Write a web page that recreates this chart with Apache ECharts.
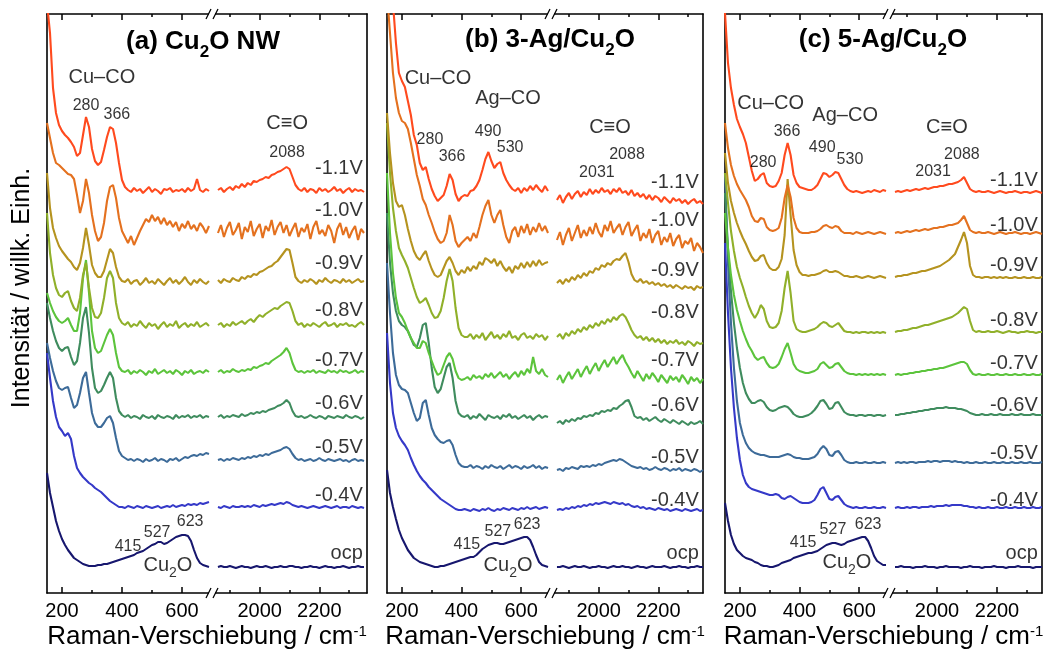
<!DOCTYPE html>
<html><head><meta charset="utf-8">
<script src="https://cdn.jsdelivr.net/npm/echarts@6/dist/echarts.min.js"></script>
<style>html,body{margin:0;padding:0;background:#fff}#c{width:1046px;height:652px}</style>
</head><body><div id="c"></div>
<script>
// ---------- x grids (Raman shift, cm-1) ----------
const xLeft = [150,160,170,180,190,200,210,220,230,240,250,260,270,280,290,300,310,320,330,340,350,360,370,380,390,400,410,420,430,440,450,460,470,480,490,500,510,520,530,540,550,560,570,580,590,600,610,620,630,640,650,660,670,680,690];
const xRight = [1860,1870,1880,1890,1900,1910,1920,1930,1940,1950,1960,1970,1980,1990,2000,2010,2020,2030,2040,2050,2060,2070,2080,2090,2100,2110,2120,2130,2140,2150,2160,2170,2180,2190,2200,2210,2220,2230,2240,2250,2260,2270,2280,2290,2300,2310,2320,2330,2340,2350];
const traceNames = ['ocp','-0.4V','-0.5V','-0.6V','-0.7V','-0.8V','-0.9V','-1.0V','-1.1V'];
const xMajorL = [200,400,600], xMinorL = [300,500];
const xMajorR = [2000,2200], xMinorR = [1900,2100,2300];

// ---------- panel (a) Cu2O NW : stacked intensities ----------
const a_ocp_L = [120,100,86,72,62,54,48,43,39,35,33,31,29,28,27,27,27,28,28,29,29,30,31,32,33,34,35,36,37,38,40,41,42,44,46,48,49,51,51,49,50,52,54,56,57,58,58,57,52,43,35,30,28,27,26];
const a_m04_L = [240,215,192,176,166,162,157,160,154,137,125,120,116,113,110,108,105,103,101,98,95,92,90,88,86,86,85,87,86,85,87,86,85,87,86,85,86,87,85,86,87,86,88,86,87,88,87,89,88,89,88,90,89,90,91];
const a_m05_L = [250,235,222,212,205,203,205,206,195,185,188,200,215,221,200,180,170,166,166,170,175,177,170,155,142,137,135,133,134,132,134,133,131,134,132,133,135,132,134,133,131,134,133,135,132,134,136,135,137,138,137,139,138,140,139];
const a_m06_L = [290,275,262,252,245,242,245,246,236,228,232,250,275,286,260,225,205,200,202,208,215,221,215,195,182,178,176,178,175,177,176,174,178,176,175,177,174,178,176,175,177,176,174,178,175,177,176,178,175,177,176,178,175,177,176];
const a_m07_L = [300,290,282,276,272,270,272,275,268,262,262,280,315,333,300,262,245,240,242,250,258,264,258,240,226,222,221,223,219,222,220,223,221,218,222,220,224,219,221,223,220,222,219,223,221,218,222,220,223,219,221,222,220,223,221];
const a_m08_L = [380,340,318,305,298,296,300,302,292,285,282,295,318,330,305,285,276,275,280,295,315,322,315,290,275,270,268,271,266,269,267,272,268,265,270,267,269,264,268,271,266,269,267,272,265,268,270,266,269,267,271,266,268,270,267];
const a_m09_L = [420,385,365,355,347,342,338,334,331,326,323,330,345,365,348,328,320,316,316,322,333,344,340,326,316,312,311,314,309,312,313,308,311,315,310,312,309,314,311,308,312,315,310,313,309,312,316,311,308,313,310,314,311,309,312];
const a_m10_L = [470,455,440,430,428,425,422,419,418,414,398,380,392,414,400,378,362,352,356,370,392,406,408,395,375,362,356,350,357,348,355,362,368,374,371,378,372,376,369,375,368,372,366,371,362,369,365,372,364,368,362,370,366,360,367];
const a_m11_L = [590,560,505,480,468,462,458,455,451,446,437,440,458,476,466,444,432,428,431,443,456,466,464,450,430,413,406,403,401,405,402,404,400,403,406,401,404,402,399,404,403,405,401,403,402,404,401,405,402,404,414,403,401,404,402];
const a_ocp_R = [26,27,26,26,27,26,25,26,27,26,26,25,26,27,26,26,27,26,25,26,26,27,26,26,27,27,26,26,25,26,26,27,26,26,25,26,27,26,26,25,26,26,27,26,25,26,26,27,26,26];
const a_m04_R = [86,85,87,86,85,87,86,86,87,86,87,86,88,87,86,88,87,88,89,88,89,90,89,91,90,88,87,86,87,86,85,86,87,86,85,86,87,86,85,86,87,85,86,86,85,87,86,85,86,85];
const a_m05_R = [133,134,132,134,133,135,134,133,135,134,136,135,137,136,138,137,139,138,140,141,142,143,145,146,144,139,135,133,134,132,133,134,132,133,135,133,132,134,133,132,133,134,132,133,131,133,134,132,133,132];
const a_m06_R = [176,178,175,177,176,178,177,176,179,177,178,180,179,181,180,182,181,183,184,185,187,188,190,193,190,182,177,176,177,175,176,178,176,175,177,176,174,177,176,175,177,176,175,178,176,175,177,176,174,176];
const a_m07_R = [221,223,220,222,221,224,222,221,223,222,224,223,226,225,227,228,230,229,232,234,236,238,241,245,240,230,223,221,222,220,222,221,223,220,222,221,220,223,221,222,220,223,221,222,220,221,223,220,222,221];
const a_m08_R = [268,270,266,269,267,271,268,270,272,269,272,274,271,275,278,276,279,281,283,285,284,287,289,291,290,282,272,268,270,266,269,267,270,268,266,269,271,267,268,270,266,269,268,270,267,268,266,269,271,268];
const a_m09_R = [313,310,314,312,311,315,313,312,316,314,317,316,319,318,321,322,324,326,327,330,332,336,340,344,343,330,316,312,310,313,311,314,312,309,313,311,315,312,310,313,312,310,314,311,313,310,312,314,311,312];
const a_m10_R = [360,368,356,365,371,358,363,370,354,366,361,372,357,364,369,355,367,362,373,358,366,371,360,368,357,364,370,356,365,361,369,354,366,372,359,363,357,368,362,350,364,370,358,366,355,362,367,353,364,360];
const a_m11_R = [403,405,401,404,406,403,407,405,409,406,410,408,412,411,413,414,416,415,418,419,421,422,424,426,424,416,408,404,402,405,401,404,403,400,405,402,404,401,403,406,402,404,400,403,405,401,404,402,403,401];

// ---------- panel (b) 3-Ag/Cu2O ----------
const b_ocp_L = [123,100,86,74,63,55,49,43,39,35,33,31,30,29,28,27,26,26,27,27,28,29,30,31,32,33,34,35,36,36,38,41,44,46,48,49,50,50,49,49,50,51,52,53,54,55,56,56,53,46,38,31,28,27,26];
const b_m04_L = [260,210,180,165,157,152,148,143,135,128,122,117,113,110,106,103,100,97,94,92,90,88,86,84,83,83,84,83,82,84,83,82,84,83,85,83,82,84,83,85,84,83,85,84,83,85,84,86,84,85,86,84,85,86,85];
const b_m05_L = [330,280,240,218,208,204,203,200,190,180,172,175,190,193,178,165,158,154,151,150,152,153,148,138,130,127,126,126,128,125,127,126,124,127,125,128,126,125,127,124,126,128,125,127,126,124,127,125,126,128,125,127,124,126,125];
const b_m06_L = [380,330,300,282,272,268,266,262,255,248,246,255,268,270,250,225,206,200,204,215,226,230,215,192,180,177,176,178,174,177,175,179,176,173,178,176,175,177,174,178,176,179,175,177,174,176,178,175,177,173,176,178,175,177,176];
const b_m07_L = [420,360,320,295,280,276,270,262,255,250,245,245,252,250,240,232,224,218,220,228,236,240,234,222,215,213,214,216,213,218,215,217,214,219,216,220,215,218,221,216,219,214,218,221,216,222,218,224,220,236,222,219,224,218,216];
const b_m08_L = [470,420,385,362,345,338,332,325,315,305,296,290,292,295,288,280,275,276,282,295,312,324,312,285,265,258,256,256,259,254,258,255,260,253,257,261,255,258,254,259,256,262,255,257,253,258,260,255,257,254,259,256,258,253,257];
const b_m09_L = [480,440,410,392,386,388,378,364,352,342,336,333,338,342,332,324,318,316,318,325,332,336,330,322,318,323,320,326,322,327,324,331,328,335,333,330,334,327,332,326,322,326,320,327,324,330,325,331,326,332,327,333,328,330,331];
const b_m10_L = [600,560,520,495,480,472,470,464,450,434,418,407,394,388,378,370,361,354,350,352,360,378,368,352,346,350,353,356,352,360,355,366,378,387,393,378,370,378,383,368,356,350,362,366,356,367,360,369,358,366,361,370,362,367,360];
const b_m11_L = [640,620,590,550,520,512,506,492,478,458,448,430,423,426,414,404,397,392,395,398,407,419,413,399,392,396,398,397,402,403,407,413,423,434,441,432,425,429,431,420,413,408,404,402,405,400,405,402,407,403,408,404,401,407,402];
const b_ocp_R = [26,26,27,26,25,26,27,26,26,27,26,25,26,26,27,26,26,25,26,27,26,26,27,26,26,25,26,27,26,26,25,26,27,26,26,26,27,26,25,26,26,27,26,26,25,26,26,27,26,26];
const b_m04_R = [83,84,83,85,84,86,85,87,86,88,87,89,88,90,89,90,91,90,89,91,90,89,90,88,89,87,86,87,85,86,84,85,84,83,85,84,83,84,82,83,84,83,82,84,83,82,83,84,82,83];
const b_m05_R = [123,124,122,125,124,126,125,124,127,126,127,126,128,127,129,128,130,131,132,133,132,134,133,131,129,127,126,125,126,124,125,123,124,126,124,123,125,124,122,124,123,125,122,124,123,122,124,123,121,123];
const b_m06_R = [170,172,169,173,171,174,172,175,174,177,176,178,177,180,179,182,181,183,182,185,184,187,189,192,193,186,177,175,176,173,175,172,174,176,173,171,174,172,170,173,171,169,172,170,168,171,169,170,172,169];
const b_m07_R = [213,218,210,216,221,214,219,224,216,222,227,219,225,230,222,228,233,226,231,236,229,234,238,231,226,220,215,222,217,212,219,214,220,216,211,218,214,210,217,213,216,211,218,214,209,216,212,215,210,214];
const b_m08_R = [256,259,254,260,257,262,259,264,261,266,263,268,265,270,267,272,269,274,271,276,273,277,279,276,270,263,258,255,257,253,256,252,255,251,254,250,253,249,252,250,253,249,251,248,252,250,247,251,249,250];
const b_m09_R = [310,313,309,314,311,316,313,318,315,320,317,322,320,325,323,328,326,330,328,332,334,333,337,340,331,319,313,311,314,310,312,309,311,308,310,307,309,306,308,305,308,306,304,307,305,306,303,307,305,306];
const b_m10_R = [353,361,348,358,365,352,360,368,355,363,357,366,359,370,361,356,368,362,372,360,365,369,358,366,371,357,363,368,352,360,355,364,350,358,362,348,356,351,360,347,354,358,345,352,349,355,342,350,346,340];
const b_m11_R = [393,398,390,396,400,394,399,402,396,401,398,404,399,403,400,405,401,403,399,404,401,405,400,402,398,403,397,400,396,399,394,398,393,397,395,391,396,393,390,395,392,394,390,393,389,392,394,390,392,389];

// ---------- panel (c) 5-Ag/Cu2O ----------
const c_ocp_L = [90,72,58,49,43,40,37,35,34,33,31,30,28,27,27,26,26,27,28,30,31,32,33,35,36,37,38,39,40,40,41,42,44,46,48,49,50,50,49,48,49,51,52,53,54,55,56,56,52,45,37,32,30,28,28];
const c_m04_L = [350,280,225,185,155,133,118,110,106,104,103,102,101,100,99,98,98,99,98,95,94,96,97,95,93,91,90,90,90,91,93,98,104,106,100,94,93,96,97,93,89,87,86,85,86,85,85,86,85,85,86,85,85,86,85];
const c_m05_L = [420,330,270,225,192,170,158,150,145,142,140,139,138,138,137,136,136,136,136,137,138,139,138,136,135,135,134,134,134,135,136,139,144,147,144,138,137,141,142,138,133,131,130,130,131,130,130,131,130,130,131,130,130,131,130];
const c_m06_L = [400,345,302,270,245,225,210,200,194,190,190,192,193,191,186,183,182,183,185,186,187,186,183,179,177,176,176,177,178,180,183,187,192,193,189,184,185,190,191,186,181,179,178,178,177,178,178,177,178,178,177,178,178,177,178];
const c_m07_L = [380,345,318,298,283,272,262,254,247,242,236,233,235,236,230,226,225,226,229,236,244,250,240,229,224,222,221,220,220,221,222,224,229,231,228,225,226,229,230,226,222,220,219,219,218,219,218,219,218,219,218,219,218,219,218];
const c_m08_L = [420,390,362,342,326,315,306,296,287,280,275,280,288,284,272,266,265,266,270,282,305,322,300,272,264,262,261,261,262,263,264,266,269,271,270,267,266,268,270,266,262,261,261,260,261,260,261,261,260,261,260,261,260,261,260];
const c_m09_L = [440,410,392,380,370,362,355,349,342,336,332,333,337,338,330,325,323,323,326,334,358,414,378,343,328,321,318,318,317,318,318,319,320,322,323,321,321,322,321,319,317,317,316,316,317,316,315,316,317,316,315,316,317,316,315];
const c_m10_L = [470,445,428,417,409,403,398,393,386,377,372,371,375,374,366,363,362,363,365,375,395,408,396,375,365,361,360,360,360,361,361,362,364,367,368,366,365,367,366,362,360,360,360,359,361,360,359,360,361,360,359,360,361,360,359];
const c_m11_L = [580,530,505,488,474,466,459,450,436,422,412,414,418,420,410,407,406,407,412,420,438,450,438,418,410,406,405,404,403,403,405,408,414,420,419,416,418,421,420,414,408,404,402,401,402,401,400,401,402,401,403,402,401,403,402];
const c_ocp_R = [26,26,27,26,26,26,25,26,26,26,27,26,26,26,25,26,26,27,26,26,26,26,25,26,26,27,26,26,26,25,26,26,26,27,26,26,26,25,26,26,26,27,26,26,26,26,25,26,26,26];
const c_m04_R = [85,86,85,85,86,85,86,86,85,86,86,86,87,86,87,87,87,88,87,88,88,88,88,87,87,86,86,85,86,85,85,86,85,85,86,85,85,86,85,85,86,85,85,86,85,85,86,85,85,86];
const c_m05_R = [130,131,130,131,130,131,131,130,131,131,131,132,131,132,132,131,132,132,132,131,132,131,131,130,131,130,130,131,130,130,131,130,130,131,130,130,131,130,130,131,130,130,131,130,130,131,130,130,130,131];
const c_m06_R = [178,178,179,179,180,180,181,181,182,182,183,183,184,184,185,185,185,186,185,185,185,184,184,183,182,180,179,178,178,179,178,178,179,178,178,179,178,178,178,179,178,178,179,178,178,178,179,178,178,178];
const c_m07_R = [218,219,218,219,219,220,220,221,221,222,222,223,223,224,224,225,225,226,227,228,229,230,231,231,229,223,219,218,219,218,218,219,218,218,219,218,218,219,218,218,219,218,218,219,218,218,219,218,218,219];
const c_m08_R = [261,262,262,263,263,264,265,265,266,267,268,268,269,270,271,272,273,274,275,276,278,280,283,286,284,272,263,261,262,261,261,262,261,261,262,261,260,261,262,261,261,260,261,261,262,261,261,260,261,261];
const c_m09_R = [316,317,317,318,318,319,320,320,321,322,322,323,324,325,326,327,329,331,333,336,339,346,353,361,350,327,318,316,316,315,316,316,315,316,315,316,315,316,315,315,316,315,315,316,315,315,316,315,315,316];
const c_m10_R = [360,361,360,361,362,361,362,363,362,363,364,363,364,365,365,366,366,367,368,368,369,370,373,377,370,363,361,360,361,360,360,361,360,359,360,361,360,359,360,360,361,360,359,360,360,359,360,361,360,359];
const c_m11_R = [401,402,401,402,403,402,403,404,403,404,405,404,405,406,406,407,407,408,409,409,410,411,413,416,410,404,402,401,402,401,401,402,401,400,401,402,401,400,401,401,402,401,400,401,401,400,401,402,401,400];

// ---------- assembly ----------
const FONT = "'Liberation Sans', Arial, Helvetica, sans-serif";
const traceColors = ['#17176e','#3539c8','#3d6b99','#3f8c5e','#5cc43c','#90b02a','#b5931f','#e4711f','#ff4a1e'];
const TOP = 14, BOTTOM = 593;
const panelData = [
  {L:[a_ocp_L,a_m04_L,a_m05_L,a_m06_L,a_m07_L,a_m08_L,a_m09_L,a_m10_L,a_m11_L], R:[a_ocp_R,a_m04_R,a_m05_R,a_m06_R,a_m07_R,a_m08_R,a_m09_R,a_m10_R,a_m11_R]},
  {L:[b_ocp_L,b_m04_L,b_m05_L,b_m06_L,b_m07_L,b_m08_L,b_m09_L,b_m10_L,b_m11_L], R:[b_ocp_R,b_m04_R,b_m05_R,b_m06_R,b_m07_R,b_m08_R,b_m09_R,b_m10_R,b_m11_R]},
  {L:[c_ocp_L,c_m04_L,c_m05_L,c_m06_L,c_m07_L,c_m08_L,c_m09_L,c_m10_L,c_m11_L], R:[c_ocp_R,c_m04_R,c_m05_R,c_m06_R,c_m07_R,c_m08_R,c_m09_R,c_m10_R,c_m11_R]}
];
const CU2O = '{n|Cu}{s|2}{n|O}';
const layout = [
  {x0:47, xb:212, x1:367, rMax:2360, tx:203, ty:45, title:'{t|(a) Cu}{ts|2}{t|O NW}',
   labelY:[40,98,146,190,233,283,330,383,425],
   annL:[[333,516,'Cu–CO',20],[280,487,'280',16],[383,478,'366',16],[420,46,'415',16],[517,60,'527',16],[627,71,'623',16],[553,25,CU2O,20]],
   annR:[[2092,470,'C≡O',20],[2092,440,'2088',16]]},
  {x0:387, xb:551, x1:703, rMax:2350, tx:550, ty:43, title:'{t|(b) 3-Ag/Cu}{ts|2}{t|O}',
   labelY:[40,93,136,188,233,281,323,373,411],
   annL:[[321,515,'Cu–CO',20],[556,495,'Ag–CO',20],[294,453,'280',16],[368,436,'366',16],[489,461,'490',16],[563,445,'530',16],[418,48,'415',16],[522,61,'527',16],[620,68,'623',16],[556,25,CU2O,20]],
   annR:[[2038,466,'C≡O',20],[2095,438,'2088',16],[1994,420,'2031',16]]},
  {x0:725, xb:889, x1:1042, rMax:2350, tx:883, ty:43, title:'{t|(c) 5-Ag/Cu}{ts|2}{t|O}',
   labelY:[40,93,140,188,230,273,328,368,413],
   annL:[[303,490,'Cu–CO',20],[553,478,'Ag–CO',20],[358,461,'366',16],[278,430,'280',16],[476,445,'490',16],[569,433,'530',16],[412,50,'415',16],[512,63,'527',16],[630,68,'623',16],[559,28,CU2O,20]],
   annR:[[2033,466,'C≡O',20],[2083,438,'2088',16],[1987,421,'2031',16]]}
];

const lineSt = {color:'#000', width:1.6};
const grids=[], xAxes=[], yAxes=[], series=[], graphic=[];
const richLbl = (fs) => ({n:{fontSize:fs,fontFamily:FONT,color:'#000',verticalAlign:'bottom',padding:[0,0,5,0]}, s:{fontSize:Math.round(fs*0.7),fontFamily:FONT,color:'#000',verticalAlign:'bottom'}});

layout.forEach((p, pi) => {
  const segs = [
    {left:p.x0, width:p.xb-p.x0, min:150, max:700, major:xMajorL, minor:xMinorL, data:panelData[pi].L, xs:xLeft, side:'left', ann:p.annL},
    {left:p.xb, width:p.x1-p.xb, min:1840, max:p.rMax, major:xMajorR, minor:xMinorR, data:panelData[pi].R, xs:xRight, side:'right', ann:p.annR}
  ];
  segs.forEach((s, si) => {
    const g = grids.length;
    grids.push({left:s.left, top:TOP, width:s.width, height:BOTTOM-TOP});
    const base = {gridIndex:g, type:'value', min:s.min, max:s.max, splitLine:{show:false}, silent:true};
    const ax = xAxes.length;
    const tickSt = {color:'#000', width:1.5};
    xAxes.push(Object.assign({}, base, {position:'bottom', axisLine:{show:true,onZero:false,lineStyle:lineSt},
      axisTick:{show:true,inside:true,length:6,customValues:s.major,lineStyle:tickSt},
      axisLabel:{show:true,customValues:s.major,fontSize:20,color:'#000',fontFamily:FONT,margin:8,formatter:(v)=>String(v)}}));
    xAxes.push(Object.assign({}, base, {position:'bottom', axisLine:{show:false,onZero:false},
      axisTick:{show:true,inside:true,length:3,customValues:s.minor,lineStyle:tickSt}, axisLabel:{show:false}}));
    xAxes.push(Object.assign({}, base, {position:'top', axisLine:{show:true,onZero:false,lineStyle:lineSt},
      axisTick:{show:true,inside:true,length:6,customValues:s.major,lineStyle:tickSt}, axisLabel:{show:false}}));
    xAxes.push(Object.assign({}, base, {position:'top', axisLine:{show:false,onZero:false},
      axisTick:{show:true,inside:true,length:3,customValues:s.minor,lineStyle:tickSt}, axisLabel:{show:false}}));
    yAxes.push({gridIndex:g, type:'value', min:0, max:BOTTOM-TOP, position:s.side,
      axisLine:{show:true,onZero:false,lineStyle:lineSt}, axisTick:{show:false}, axisLabel:{show:false}, splitLine:{show:false}});
    s.data.forEach((arr, ti) => {
      series.push({type:'line', xAxisIndex:ax, yAxisIndex:g, data:s.xs.map((x,k)=>[x,arr[k]]),
        showSymbol:false, symbol:'none', silent:true, animation:false, clip:true,
        lineStyle:{color:traceColors[ti], width:2.1}, z:2});
    });
    const annData = s.ann.map(a => ({value:[a[0],a[1]], label:{show:true, position:'inside', fontSize:a[3], color:'#000', textBorderWidth:0, fontFamily:FONT,
      formatter:()=>a[2], rich:richLbl(a[3])}}));
    if (si === 1) {
      p.labelY.forEach((y, ti) => annData.push({value:[s.max-4, y], label:{show:true, position:'left', distance:3, fontSize:20, color:'#000', textBorderWidth:0, fontFamily:FONT, formatter:()=>traceNames[ti]}}));
    }
    series.push({type:'scatter', xAxisIndex:ax, yAxisIndex:g, symbolSize:0, silent:true, animation:false, data:annData, z:10});
  });
  // panel title
  graphic.push({type:'text', x:p.tx, y:p.ty, z:50, style:{text:p.title, align:'center', verticalAlign:'middle',
    rich:{t:{fontSize:26,fontWeight:'bold',fontFamily:FONT,fill:'#000',verticalAlign:'bottom',padding:[0,0,6,0]},
          ts:{fontSize:17,fontWeight:'bold',fontFamily:FONT,fill:'#000',verticalAlign:'bottom'}}}});
  // x axis title
  graphic.push({type:'text', x:(p.x0+p.x1)/2, y:637, z:50, style:{text:'{n|Raman-Verschiebung / cm}{p|-1}', align:'center', verticalAlign:'middle',
    rich:{n:{fontSize:26,fontFamily:FONT,fill:'#000',verticalAlign:'top'}, p:{fontSize:15,fontFamily:FONT,fill:'#000',verticalAlign:'top'}}}});
  // axis break marks
  [TOP, BOTTOM].forEach(yy => {
    graphic.push({type:'rect', z:60, shape:{x:p.xb-3, y:yy-2, width:6, height:4}, style:{fill:'#fff'}});
    graphic.push({type:'line', z:61, shape:{x1:p.xb-6, y1:yy+5, x2:p.xb-1, y2:yy-5}, style:{stroke:'#000', lineWidth:1.3}});
    graphic.push({type:'line', z:61, shape:{x1:p.xb+1, y1:yy+5, x2:p.xb+6, y2:yy-5}, style:{stroke:'#000', lineWidth:1.3}});
  });
});
graphic.push({type:'text', x:22, y:288, rotation:Math.PI/2, z:50, style:{text:'Intensität / willk. Einh.', align:'center', verticalAlign:'middle',
  fontSize:25, fontFamily:FONT, fill:'#000'}});

const chart = echarts.init(document.getElementById('c'), null, {renderer:'canvas'});
chart.setOption({animation:false, backgroundColor:'#fff', grid:grids, xAxis:xAxes, yAxis:yAxes, series:series, graphic:graphic});
</script></body></html>
